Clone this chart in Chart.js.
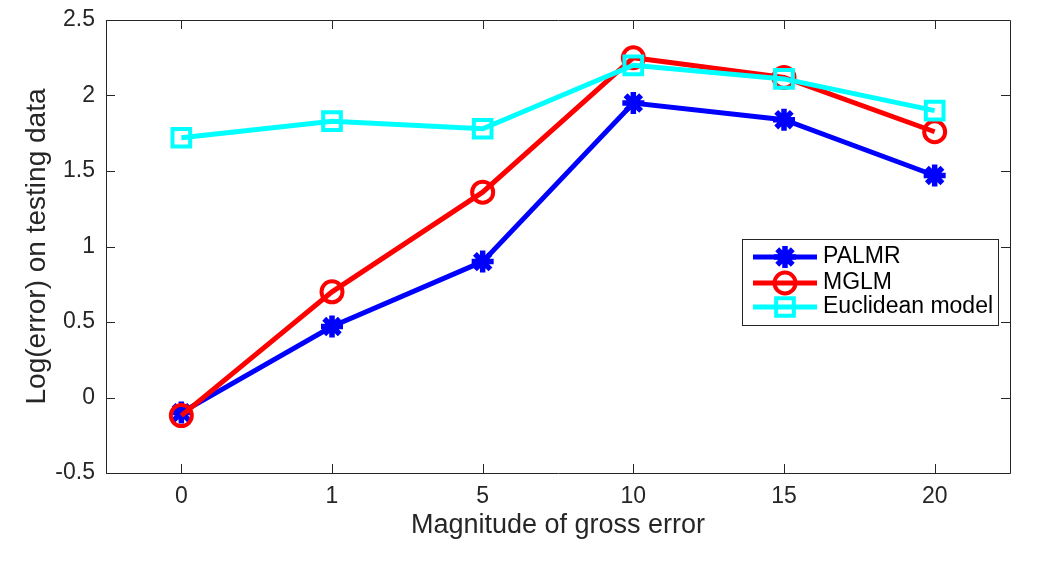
<!DOCTYPE html>
<html>
<head>
<meta charset="utf-8">
<script src="https://cdn.jsdelivr.net/npm/chart.js@4/dist/chart.umd.min.js"></script>
<style>
  html, body { margin: 0; padding: 0; background: #fff; }
  #wrap { width: 1046px; height: 561px; }
</style>
</head>
<body>
<div id="wrap"><canvas id="chart" width="1046" height="561"></canvas></div>
<script>
// data
const categories = ['0', '1', '5', '10', '15', '20'];
const palmr = [-0.10, 0.47, 0.90, 1.95, 1.84, 1.47];
const mglm = [-0.12, 0.70, 1.36, 2.25, 2.12, 1.76];
const euclidean = [1.72, 1.83, 1.78, 2.20, 2.11, 1.90];
const yTicks = [-0.5, 0, 0.5, 1, 1.5, 2, 2.5];

const axisColor = '#262626';
const fontFamily = '"Liberation Sans", Arial, Helvetica, sans-serif';

// draws the marker shapes for the legend
function drawMarker(ctx, style, x, y, r, color, w) {
    ctx.save();
    ctx.strokeStyle = color;
    ctx.lineWidth = w;
    ctx.beginPath();
    if (style === 'circle') {
        ctx.arc(x, y, r, 0, Math.PI * 2);
    } else if (style === 'rect') {
        const s = Math.SQRT1_2 * r;
        ctx.rect(x - s, y - s, 2 * s, 2 * s);
    } else if (style === 'star') {
        for (let i = 0; i < 4; i++) {
            const a = i * Math.PI / 4;
            ctx.moveTo(x - Math.cos(a) * r, y - Math.sin(a) * r);
            ctx.lineTo(x + Math.cos(a) * r, y + Math.sin(a) * r);
        }
    }
    ctx.stroke();
    ctx.restore();
}

// matlab style box with inward ticks on all sides
const boxPlugin = {
    id: 'matlabBox',
    beforeDatasetsDraw(chart) {
        const { ctx, chartArea: a, scales } = chart;
        const len = 9;
        ctx.save();
        ctx.strokeStyle = axisColor;
        ctx.lineWidth = 1;
        ctx.beginPath();
        ctx.rect(a.left + 0.5, a.top + 0.5, a.right - a.left, a.bottom - a.top);
        scales.x.ticks.forEach((t, i) => {
            const px = Math.round(scales.x.getPixelForTick(i)) + 0.5;
            ctx.moveTo(px, a.bottom); ctx.lineTo(px, a.bottom - len);
            ctx.moveTo(px, a.top); ctx.lineTo(px, a.top + len);
        });
        scales.y.ticks.forEach(t => {
            const py = Math.round(scales.y.getPixelForValue(t.value)) + 0.5;
            ctx.moveTo(a.left, py); ctx.lineTo(a.left + len, py);
            ctx.moveTo(a.right, py); ctx.lineTo(a.right - len, py);
        });
        ctx.stroke();
        ctx.restore();
    },
    afterDraw(chart) {
        // legend box in the lower right
        const ctx = chart.ctx;
        const bx = 742, by = 239, bw = 256, bh = 86;
        ctx.save();
        ctx.fillStyle = '#fff';
        ctx.fillRect(bx, by, bw, bh);
        ctx.strokeStyle = axisColor;
        ctx.lineWidth = 1;
        ctx.strokeRect(bx + 0.5, by + 0.5, bw, bh);
        const rows = [257, 283, 307];
        chart.data.datasets.forEach((ds, i) => {
            const y = rows[i];
            ctx.strokeStyle = ds.borderColor;
            ctx.lineWidth = 5;
            ctx.beginPath();
            ctx.moveTo(753, y); ctx.lineTo(817, y);
            ctx.stroke();
            drawMarker(ctx, ds.pointStyle, 785, y, ds.pointRadius, ds.borderColor, ds.pointBorderWidth);
            ctx.fillStyle = '#000';
            ctx.font = '23px ' + fontFamily;
            ctx.textBaseline = 'middle';
            ctx.textAlign = 'left';
            ctx.fillText(ds.label, 823, y);
        });
        ctx.restore();
    }
};

new Chart(document.getElementById('chart'), {
    type: 'line',
    data: {
        labels: categories,
        datasets: [
            {
                label: 'PALMR', data: palmr, order: 3,
                borderColor: '#0000ff', backgroundColor: 'transparent',
                borderWidth: 5, pointStyle: 'star', pointRadius: 11,
                pointBorderWidth: 5.5, pointBorderColor: '#0000ff'
            },
            {
                label: 'MGLM', data: mglm, order: 2,
                borderColor: '#ff0000', backgroundColor: 'transparent',
                borderWidth: 5, pointStyle: 'circle', pointRadius: 10.5,
                pointBorderWidth: 4, pointBorderColor: '#ff0000'
            },
            {
                label: 'Euclidean model', data: euclidean, order: 1,
                borderColor: '#00ffff', backgroundColor: 'transparent',
                borderWidth: 5, pointStyle: 'rect', pointRadius: 12.5,
                pointBorderWidth: 4, pointBorderColor: '#00ffff'
            }
        ]
    },
    options: {
        responsive: false,
        animation: false,
        devicePixelRatio: 1,
        layout: { padding: { top: 20, right: 36, left: 0, bottom: 0 } },
        plugins: { legend: { display: false }, tooltip: { enabled: false } },
        elements: { line: { tension: 0 } },
        scales: {
            x: {
                type: 'category',
                offset: true,
                grid: { display: false, drawTicks: false },
                border: { display: false },
                ticks: { color: axisColor, padding: 10, font: { family: fontFamily, size: 23 } },
                title: {
                    display: true, text: 'Magnitude of gross error', color: axisColor,
                    font: { family: fontFamily, size: 27 }, padding: { top: 0, bottom: 19 }
                },
                afterFit(s) { s.height = 88; s.paddingLeft = 0; s.paddingRight = 0; }
            },
            y: {
                min: -0.5, max: 2.5,
                afterBuildTicks(s) { s.ticks = yTicks.map(v => ({ value: v })); },
                grid: { display: false, drawTicks: false },
                border: { display: false },
                ticks: {
                    color: axisColor, padding: 11, font: { family: fontFamily, size: 23 },
                    callback: v => String(v)
                },
                title: {
                    display: true, text: 'Log(error) on testing data', color: axisColor,
                    font: { family: fontFamily, size: 28 }, padding: { top: 20, bottom: 0 }
                },
                afterFit(s) { s.width = 106; s.paddingTop = 0; s.paddingBottom = 0; }
            }
        }
    },
    plugins: [boxPlugin]
});
</script>
</body>
</html>
